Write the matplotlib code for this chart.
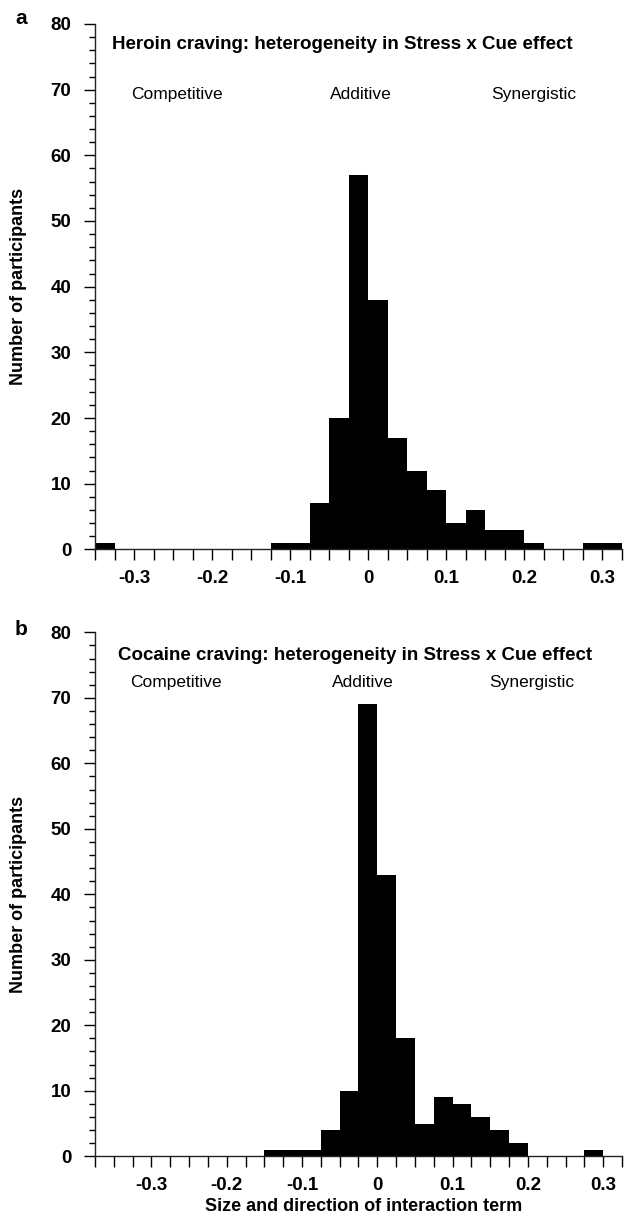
import numpy as np
import matplotlib
matplotlib.use("Agg")
import matplotlib.pyplot as plt
from matplotlib.ticker import MultipleLocator, FormatStrFormatter

plt.rcParams['font.family'] = ['Liberation Sans', 'DejaVu Sans']

# histogram data (bin width 0.025, left edges)
bin_width = 0.025
heroin_left = np.round(np.arange(-0.35, 0.325 - 1e-9, bin_width), 3)
heroin_counts = [1, 0, 0, 0, 0, 0, 0, 0, 0, 1, 1, 7, 20, 57, 38, 17, 12, 9, 4, 6,
                 3, 3, 1, 0, 0, 1, 1]
cocaine_left = np.round(np.arange(-0.375, 0.325 - 1e-9, bin_width), 3)
cocaine_counts = [0, 0, 0, 0, 0, 0, 0, 0, 0, 1, 1, 1, 4, 10, 69, 43, 18, 5, 9, 8,
                  6, 4, 2, 0, 0, 0, 1, 0]

titles = ["Heroin craving: heterogeneity in Stress x Cue effect",
          "Cocaine craving: heterogeneity in Stress x Cue effect"]
effect_labels = ["Competitive", "Additive", "Synergistic"]
panel_letters = ["a", "b"]

fig = plt.figure(figsize=(6.27, 12.17), dpi=100)
ax_a = fig.add_axes([0.1515, 0.5486, 0.8405, 0.4317])
ax_b = fig.add_axes([0.1515, 0.0499, 0.8405, 0.4305])


def draw_panel(ax, lefts, counts, xlim, title, title_pos, label_x, label_y):
    ax.bar(lefts, counts, width=bin_width, align='edge', color='black', linewidth=0)
    ax.set_xlim(*xlim)
    ax.set_ylim(0, 80)
    for side in ['top', 'right']:
        ax.spines[side].set_visible(False)
    for side in ['left', 'bottom']:
        ax.spines[side].set_linewidth(1.0)
        ax.spines[side].set_color('#222222')
    ax.yaxis.set_major_locator(MultipleLocator(10))
    ax.yaxis.set_minor_locator(MultipleLocator(2))
    ax.xaxis.set_major_locator(MultipleLocator(0.1))
    ax.xaxis.set_minor_locator(MultipleLocator(0.025))
    ax.xaxis.set_major_formatter(FormatStrFormatter('%g'))
    ax.tick_params(axis='y', which='major', length=8, width=1.0, pad=9, labelsize=13.5)
    ax.tick_params(axis='y', which='minor', length=4, width=1.0)
    ax.tick_params(axis='x', which='both', length=8, width=1.0, pad=7, labelsize=13.5)
    for lab in ax.get_xticklabels() + ax.get_yticklabels():
        lab.set_fontweight('bold')
    ax.set_ylabel("Number of participants", fontsize=13, fontweight='bold')
    ax.yaxis.set_label_coords(-0.129, 0.5)
    ax.text(title_pos[0], title_pos[1], title, fontsize=13.5, fontweight='bold',
            ha='left', va='center')
    for lx, lab in zip(label_x, effect_labels):
        ax.text(lx, label_y, lab, fontsize=12.5, ha='center', va='center')


draw_panel(ax_a, heroin_left, heroin_counts, (-0.35, 0.325), titles[0],
           (-0.328, 76.8), [-0.245, -0.009, 0.212], 69.2)
draw_panel(ax_b, cocaine_left, cocaine_counts, (-0.375, 0.325), titles[1],
           (-0.344, 76.5), [-0.268, -0.0186, 0.2055], 72.3)
ax_b.set_xlabel("Size and direction of interaction term", fontsize=13,
                fontweight='bold')
ax_b.xaxis.set_label_coords(0.51, -0.079)

fig.text(21 / 627, 1 - 19 / 1217, panel_letters[0], fontsize=15, fontweight='bold',
         ha='center', va='center')
fig.text(21 / 627, 1 - 629 / 1217, panel_letters[1], fontsize=15, fontweight='bold',
         ha='center', va='center')

fig.savefig("out.png", dpi=100)
